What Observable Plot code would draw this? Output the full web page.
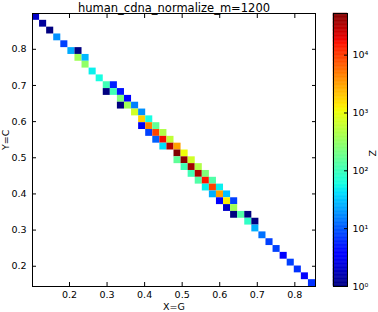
<!DOCTYPE html>
<html>
<head>
<meta charset="utf-8">
<script src="https://cdn.jsdelivr.net/npm/d3@7"></script>
<script src="https://cdn.jsdelivr.net/npm/@observablehq/plot@0.6"></script>
<style>
  html, body { margin: 0; padding: 0; background: white; }
  #wrap { position: relative; width: 378px; height: 312px; overflow: hidden; }
  #wrap svg { position: absolute; top: 0; }
</style>
</head>
<body>
<div id="wrap"></div>
<script>
// ---- chart text ----
const titleText = "human_cdna_normalize_m=1200";
const xLabel = "X=G";
const yLabel = "Y=C";
const zLabel = "Z";

// ---- binning (40 x 40 grid over the axis domains) ----
const nBins = 40;
const xMin = 0.1015, xMax = 0.855;
const yMin = 0.144, yMax = 0.899;

// ---- ticks ----
const xTicks = [0.2, 0.3, 0.4, 0.5, 0.6, 0.7, 0.8];
const yTicks = [0.2, 0.3, 0.4, 0.5, 0.6, 0.7, 0.8];
const zTicks = [1, 10, 100, 1000, 10000];
const zTickLabels = ["10⁰", "10¹", "10²", "10³", "10⁴"];
const zMin = 1, zMax = 52500;

// ---- non-empty cells: x-bin index, y-bin index (counted from top), Z value ----
const cellCol = [0, 1, 2, 3, 4, 5, 6, 6, 7, 7, 8, 9, 10, 11, 10, 11, 12, 12, 13, 12, 13, 14,
  14, 15, 15, 16, 15, 16, 17, 16, 17, 18, 17, 18, 19, 18, 19, 20, 20, 21, 20, 21, 22,
  21, 22, 23, 22, 23, 24, 23, 24, 25, 24, 25, 26, 25, 26, 27, 26, 27, 28, 27, 28,
  28, 29, 30, 30, 31, 31, 32, 33, 34, 35, 36, 37, 38, 39];
const cellRow = [0, 1, 2, 3, 4, 5, 5, 6, 6, 7, 8, 9, 10, 10, 11, 11, 11, 12, 12, 13, 13, 13,
  14, 14, 15, 15, 16, 16, 16, 17, 17, 17, 18, 18, 18, 19, 19, 19, 20, 20, 21, 21, 21,
  22, 22, 22, 23, 23, 23, 24, 24, 24, 25, 25, 25, 26, 26, 26, 27, 27, 27, 28, 28,
  29, 29, 29, 30, 30, 31, 32, 33, 34, 35, 36, 37, 38, 39];
const cellZ = [2, 1.3, 1, 18, 7.7, 24, 1, 370, 28, 300, 51, 60, 105, 5.5, 1, 105, 4.6, 240, 3.5, 1, 370, 15,
  705, 18, 1780, 60, 3, 4550, 158, 7.7, 9200, 457, 10.8, 17700, 563, 42, 33000, 3100, 52000, 1050, 158, 47000, 705,
  105, 38000, 457, 105, 33000, 240, 129, 15800, 129, 50, 9200, 50, 25, 3100, 30, 3.3, 1250, 7.7, 2, 370,
  1, 129, 1, 85, 1, 25, 12.9, 7.7, 7.7, 3.5, 7.7, 6.5, 3.5, 6.5];

// ---- matplotlib "jet" colormap ----
const jetR = [[0, 0], [0.35, 0], [0.66, 1], [0.89, 1], [1, 0.5]];
const jetG = [[0, 0], [0.125, 0], [0.375, 1], [0.64, 1], [0.91, 0], [1, 0]];
const jetB = [[0, 0.5], [0.11, 1], [0.34, 1], [0.65, 0], [1, 0]];
function piece(t, pts) {
  t = Math.max(0, Math.min(1, t));
  for (let i = 1; i < pts.length; i++) {
    if (t <= pts[i][0]) {
      const [t0, v0] = pts[i - 1], [t1, v1] = pts[i];
      return v0 + (v1 - v0) * (t - t0) / (t1 - t0);
    }
  }
  return pts[pts.length - 1][1];
}
function jet(t) {
  const c = v => Math.round(255 * v);
  return `rgb(${c(piece(t, jetR))},${c(piece(t, jetG))},${c(piece(t, jetB))})`;
}

// ---- build table ----
const dx = (xMax - xMin) / nBins, dy = (yMax - yMin) / nBins;
const cells = cellZ.map((z, i) => ({
  x1: xMin + cellCol[i] * dx,
  x2: xMin + (cellCol[i] + 1) * dx,
  y2: yMax - cellRow[i] * dy,
  y1: yMax - (cellRow[i] + 1) * dy,
  z
}));

const colorScale = {type: "log", domain: [zMin, zMax], interpolate: jet};
const fmt = d3.format(".1f");
const font = {fontFamily: "'DejaVu Sans', sans-serif", fontSize: "9.5px", color: "black", background: "transparent", overflow: "visible"};

const main = Plot.plot({
  width: 378, height: 312,
  marginLeft: 32, marginRight: 63, marginTop: 13, marginBottom: 26,
  style: font,
  x: {domain: [xMin, xMax]},
  y: {domain: [yMin, yMax]},
  color: colorScale,
  marks: [
    Plot.rect(cells, {x1: "x1", x2: "x2", y1: "y1", y2: "y2", fill: "z"}),
    Plot.frame({stroke: "black"}),
    Plot.axisX({anchor: "bottom", ticks: xTicks, tickFormat: fmt, tickSize: -4, tickPadding: 9, label: null}),
    Plot.axisX({anchor: "top", ticks: xTicks, tickFormat: () => "", tickSize: -4, label: null}),
    Plot.axisY({anchor: "left", ticks: yTicks, tickFormat: fmt, tickSize: -4, tickPadding: 10, label: null}),
    Plot.axisY({anchor: "right", ticks: yTicks, tickFormat: () => "", tickSize: -4, label: null}),
    Plot.text([titleText], {frameAnchor: "top", dy: -10, fontSize: 11.5}),
    Plot.text([xLabel], {frameAnchor: "bottom", dy: 23}),
    Plot.text([yLabel], {frameAnchor: "left", dx: -27, rotate: -90})
  ]
});

// ---- colorbar ----
const nStops = 200;
const logMax = Math.log10(zMax);
const stops = d3.range(nStops).map(k => {
  const lo = Math.pow(10, k / nStops * logMax), hi = Math.pow(10, (k + 1) / nStops * logMax);
  return {lo, hi, mid: Math.sqrt(lo * hi)};
});
const cbar = Plot.plot({
  width: 45, height: 312,
  marginLeft: 0, marginRight: 31, marginTop: 13, marginBottom: 26,
  style: font,
  y: {type: "log", domain: [zMin, zMax]},
  color: colorScale,
  marks: [
    Plot.rect(stops, {y1: "lo", y2: "hi", fill: "mid", stroke: "mid", strokeWidth: 0.5}),
    Plot.frame({stroke: "black"}),
    Plot.axisY({anchor: "right", ticks: zTicks, tickFormat: (d, i) => zTickLabels[zTicks.indexOf(d)], tickSize: -4, tickPadding: 9, label: null}),
    Plot.text([zLabel], {frameAnchor: "right", dx: 25, rotate: -90})
  ]
});

const wrap = document.getElementById("wrap");
main.style.left = "0px";
cbar.style.left = "333px";
wrap.appendChild(main);
wrap.appendChild(cbar);
</script>
</body>
</html>
